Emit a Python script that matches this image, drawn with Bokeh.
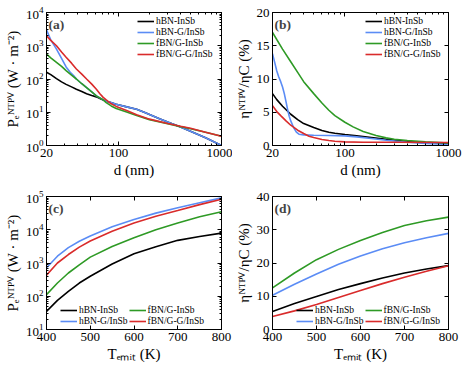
from bokeh.plotting import figure
from bokeh.layouts import gridplot
from bokeh.models import (FixedTicker, PrintfTickFormatter, LinearAxis, LogAxis,
                          Legend, LegendItem, Label, Range1d, CustomJSTickFormatter)
from bokeh.embed import file_html
from bokeh.resources import INLINE

# ---------------- data ----------------
names = ["hBN-InSb", "hBN-G/InSb", "fBN/G-InSb", "fBN/G-G/InSb"]
colors = ["#000000", "#5B8CF5", "#2E9A25", "#D92B2B"]

# (a) electric power density (W m^-2) vs gap d (nm)
a_black_d = [20, 22, 25, 28, 31, 35, 39, 44, 49, 55, 61, 66, 71, 80, 95, 120, 150, 180, 250, 300, 400, 500, 700, 1000]
a_black_p = [160, 135, 103, 82, 69, 58, 49, 42, 36, 32, 29, 26, 23.5, 20.5, 17.5, 14.5, 12.3, 9.8, 6.4, 5.1, 3.6, 2.7, 1.7, 1.0]
a_blue_d = [20, 22, 25, 28, 31, 34, 37, 39, 44, 49, 55, 61, 66, 71, 80, 95, 120, 150, 180, 250, 300, 400, 500, 700, 1000]
a_blue_p = [3000, 1500, 790, 420, 230, 160, 122, 100, 72, 55, 41, 31, 27, 23.5, 20.5, 17.5, 14.5, 12.3, 9.8, 6.4, 5.1, 3.6, 2.7, 1.7, 1.0]
a_green_d = [20, 22, 25, 28, 31, 35, 39, 44, 49, 55, 61, 66, 71, 76, 85, 95, 120, 150, 200, 300, 400, 500, 700, 1000]
a_green_p = [560, 430, 316, 240, 178, 130, 100, 72, 55, 41, 31, 27, 23.5, 19.5, 15.5, 13, 10.2, 8.0, 6.0, 4.5, 3.7, 3.2, 2.5, 1.9]
a_red_d = [20, 22, 25, 28, 31, 35, 39, 44, 49, 55, 61, 66, 71, 76, 85, 95, 120, 150, 200, 300, 400, 500, 700, 1000]
a_red_p = [2000, 1450, 1000, 650, 450, 300, 200, 140, 100, 70, 49, 36, 28, 23.5, 18, 15, 11.3, 8.4, 6.2, 4.6, 3.8, 3.3, 2.5, 1.9]

# (b) efficiency ratio (%) vs gap d (nm)
b_black_d = [20, 22, 25, 30, 35, 40, 50, 60, 70, 80, 100, 130, 180, 250, 400, 600, 1000]
b_black_e = [7.8, 6.9, 5.9, 4.7, 3.9, 3.3, 2.7, 2.25, 2.0, 1.85, 1.65, 1.45, 1.2, 0.95, 0.6, 0.42, 0.28]
b_blue_d = [20, 21, 22, 23, 24, 25, 26, 27, 28, 29, 30, 32, 34, 36, 40, 50, 70, 100, 130, 180, 250, 400, 600, 1000]
b_blue_e = [13.8, 12.5, 11.2, 10.3, 9.6, 8.8, 7.8, 6.6, 5.4, 4.4, 3.7, 2.7, 2.0, 1.7, 1.6, 1.55, 1.5, 1.45, 1.3, 1.05, 0.8, 0.5, 0.32, 0.15]
b_green_d = [20, 25, 30, 35, 40, 50, 60, 70, 80, 100, 120, 150, 200, 250, 300, 400, 600, 1000]
b_green_e = [17.0, 14.5, 12.6, 11.0, 9.6, 7.8, 6.4, 5.3, 4.5, 3.5, 2.8, 2.1, 1.5, 1.15, 0.95, 0.75, 0.55, 0.38]
b_red_d = [20, 22, 24, 27, 30, 35, 40, 45, 50, 60, 70, 80, 100, 150, 300, 1000]
b_red_e = [6.0, 5.1, 4.5, 3.7, 3.05, 2.3, 1.8, 1.4, 1.2, 0.9, 0.75, 0.65, 0.55, 0.5, 0.48, 0.45]

# (c) power density vs emitter temperature (K)
c_temps = [400, 425, 450, 475, 500, 550, 600, 650, 700, 750, 800]
c_black = [35, 75, 140, 250, 400, 930, 1900, 3100, 4800, 6300, 7900]
c_blue = [716, 1600, 2900, 4500, 6500, 12300, 20400, 31600, 45700, 65000, 91000]
c_green = [112, 250, 500, 880, 1500, 3150, 5700, 10000, 16000, 24500, 35000]
c_red = [430, 1000, 1800, 3000, 4600, 9000, 16000, 25600, 38000, 57000, 83000]

# (d) efficiency ratio (%) vs emitter temperature (K)
d_temps = [400, 450, 500, 550, 600, 650, 700, 750, 800]
d_black = [5.4, 7.8, 9.9, 12.0, 13.8, 15.5, 17.0, 18.2, 19.2]
d_blue = [10.3, 13.6, 16.7, 19.6, 22.1, 24.3, 26.1, 27.6, 28.9]
d_green = [12.5, 17.0, 21.0, 24.1, 26.8, 29.2, 31.3, 32.7, 33.8]
d_red = [3.9, 5.6, 7.5, 9.6, 11.7, 13.8, 15.7, 17.5, 19.2]

d_ticks = [20, 100, 1000]
d_minor = [30, 40, 50, 60, 70, 80, 90, 200, 300, 400, 500, 600, 700, 800, 900]
pa_major = [1, 10, 100, 1000, 10000]
pa_minor = [v * m for v in [1, 10, 100, 1000] for m in range(2, 10)]
pb_major = [0, 5, 10, 15, 20]
pc_major = [10, 100, 1000, 10000, 100000]
pc_minor = [v * m for v in [10, 100, 1000, 10000] for m in range(2, 10)]
t_ticks = [400, 500, 600, 700, 800]
pd_major = [0, 10, 20, 30, 40]

xlab_d = "d (nm)"
ylab_p = "Pₑᴺᵀᴾⱽ (W · m⁻²)"
ylab_e = "ηᴺᵀᴾⱽ/ηC (%)"
xlab_t = "Tₑₘᵢₜ (K)"

FONT = "Liberation Serif"


def style(p, xlabel, ylabel):
    p.outline_line_color = "black"
    p.outline_line_width = 1
    p.xgrid.visible = False
    p.ygrid.visible = False
    for ax in p.xaxis + p.yaxis:
        ax.major_tick_in = 4
        ax.major_tick_out = 0
        ax.minor_tick_in = 2
        ax.minor_tick_out = 0
        ax.axis_line_color = "black"
        ax.major_label_text_font = FONT
        ax.major_label_text_font_size = "13px"
        ax.major_label_text_color = "black"
        ax.axis_label_text_font = FONT
        ax.axis_label_text_font_size = "15px"
        ax.axis_label_text_font_style = "normal"
        ax.axis_label_text_color = "black"
        ax.major_label_standoff = 3
        ax.axis_label_standoff = 2
    p.xaxis.axis_label = xlabel
    p.yaxis.axis_label = ylabel


def mirror_axes(p, xtype, ytype, xticker, yticker):
    xa = LogAxis() if xtype == "log" else LinearAxis()
    ya = LogAxis() if ytype == "log" else LinearAxis()
    xa.ticker = xticker
    ya.ticker = yticker
    for ax in (xa, ya):
        ax.formatter = CustomJSTickFormatter(code="return ''")
        ax.major_label_standoff = 0
        ax.major_tick_in = 4
        ax.major_tick_out = 0
        ax.minor_tick_in = 2
        ax.minor_tick_out = 0
    p.add_layout(xa, "above")
    p.add_layout(ya, "right")


def add_tag(p, txt):
    p.add_layout(Label(x=2, y=129, x_units="screen", y_units="screen", text=txt,
                       text_font=FONT, text_font_style="bold", text_font_size="13.5px",
                       text_baseline="top"))


def make_legend(p, renderers, loc, ncols=1, lh=10, fs="9.5px", gw=17):
    items = [LegendItem(label=n, renderers=[r]) for n, r in zip(names, renderers)]
    leg = Legend(items=items, location=loc, ncols=ncols)
    leg.background_fill_alpha = 0
    leg.border_line_alpha = 0
    leg.label_text_font = FONT
    leg.label_text_font_size = fs
    leg.label_text_color = "black"
    leg.label_height = lh
    leg.glyph_height = lh
    leg.glyph_width = gw
    leg.label_standoff = 2
    leg.spacing = 1
    leg.padding = 2
    leg.margin = 0
    p.add_layout(leg)
    return leg


def base_fig(w, xtype, ytype, xr, yr, left, right):
    return figure(width=w, height=184, x_axis_type=xtype, y_axis_type=ytype,
                  x_range=xr, y_range=yr, output_backend="svg", toolbar_location=None,
                  min_border_left=left, min_border_right=right,
                  min_border_top=12, min_border_bottom=39)


LW = 1.6

# ---------- (a) ----------
pa = base_fig(232, "log", "log", Range1d(20, 1000), Range1d(1, 1e4), 46, 11)
style(pa, xlab_d, ylab_p)
pa.xaxis.ticker = FixedTicker(ticks=d_ticks, minor_ticks=d_minor)
pa.xaxis.formatter = PrintfTickFormatter(format="%d")
pa.yaxis.ticker = FixedTicker(ticks=pa_major, minor_ticks=pa_minor)
ra = [pa.line(x, y, color=c, line_width=LW) for (x, y), c in
      zip([(a_black_d, a_black_p), (a_blue_d, a_blue_p), (a_green_d, a_green_p), (a_red_d, a_red_p)], colors)]
make_legend(pa, ra, (89, 84))
mirror_axes(pa, "log", "log", FixedTicker(ticks=d_ticks, minor_ticks=d_minor),
            FixedTicker(ticks=pa_major, minor_ticks=pa_minor))
add_tag(pa, "(a)")

# ---------- (b) ----------
pb = base_fig(231, "log", "linear", Range1d(20, 1000), Range1d(0, 20), 40, 15)
style(pb, xlab_d, ylab_e)
pb.xaxis.ticker = FixedTicker(ticks=d_ticks, minor_ticks=d_minor)
pb.xaxis.formatter = PrintfTickFormatter(format="%d")
pb.yaxis.ticker = FixedTicker(ticks=pb_major, minor_ticks=[])
rb = [pb.line(x, y, color=c, line_width=LW) for (x, y), c in
      zip([(b_black_d, b_black_e), (b_blue_d, b_blue_e), (b_green_d, b_green_e), (b_red_d, b_red_e)], colors)]
make_legend(pb, rb, (91, 84))
mirror_axes(pb, "log", "linear", FixedTicker(ticks=d_ticks, minor_ticks=d_minor),
            FixedTicker(ticks=pb_major, minor_ticks=[]))
add_tag(pb, "(b)")

# ---------- (c) ----------
pc = base_fig(232, "linear", "log", Range1d(400, 800), Range1d(10, 1e5), 46, 11)
style(pc, xlab_t, ylab_p)
pc.xaxis.ticker = FixedTicker(ticks=t_ticks, minor_ticks=[])
pc.yaxis.ticker = FixedTicker(ticks=pc_major, minor_ticks=pc_minor)
rc = [pc.line(c_temps, y, color=c, line_width=LW) for y, c in
      zip([c_black, c_blue, c_green, c_red], colors)]
make_legend(pc, rc, (12, 1), ncols=2, lh=10, fs="9.5px", gw=17)
mirror_axes(pc, "linear", "log", FixedTicker(ticks=t_ticks, minor_ticks=[]),
            FixedTicker(ticks=pc_major, minor_ticks=pc_minor))
add_tag(pc, "(c)")

# ---------- (d) ----------
pd_ = base_fig(231, "linear", "linear", Range1d(400, 800), Range1d(0, 40), 40, 15)
style(pd_, xlab_t, ylab_e)
pd_.xaxis.ticker = FixedTicker(ticks=t_ticks, minor_ticks=[])
pd_.yaxis.ticker = FixedTicker(ticks=pd_major, minor_ticks=[])
rd = [pd_.line(d_temps, y, color=c, line_width=LW) for y, c in
      zip([d_black, d_blue, d_green, d_red], colors)]
make_legend(pd_, rd, (22, 1), ncols=2, lh=10, fs="9.5px", gw=17)
mirror_axes(pd_, "linear", "linear", FixedTicker(ticks=t_ticks, minor_ticks=[]),
            FixedTicker(ticks=pd_major, minor_ticks=[]))
add_tag(pd_, "(d)")

grid = gridplot([[pa, pb], [pc, pd_]], toolbar_location=None)

open("out.html", "w").write(file_html(grid, INLINE))
